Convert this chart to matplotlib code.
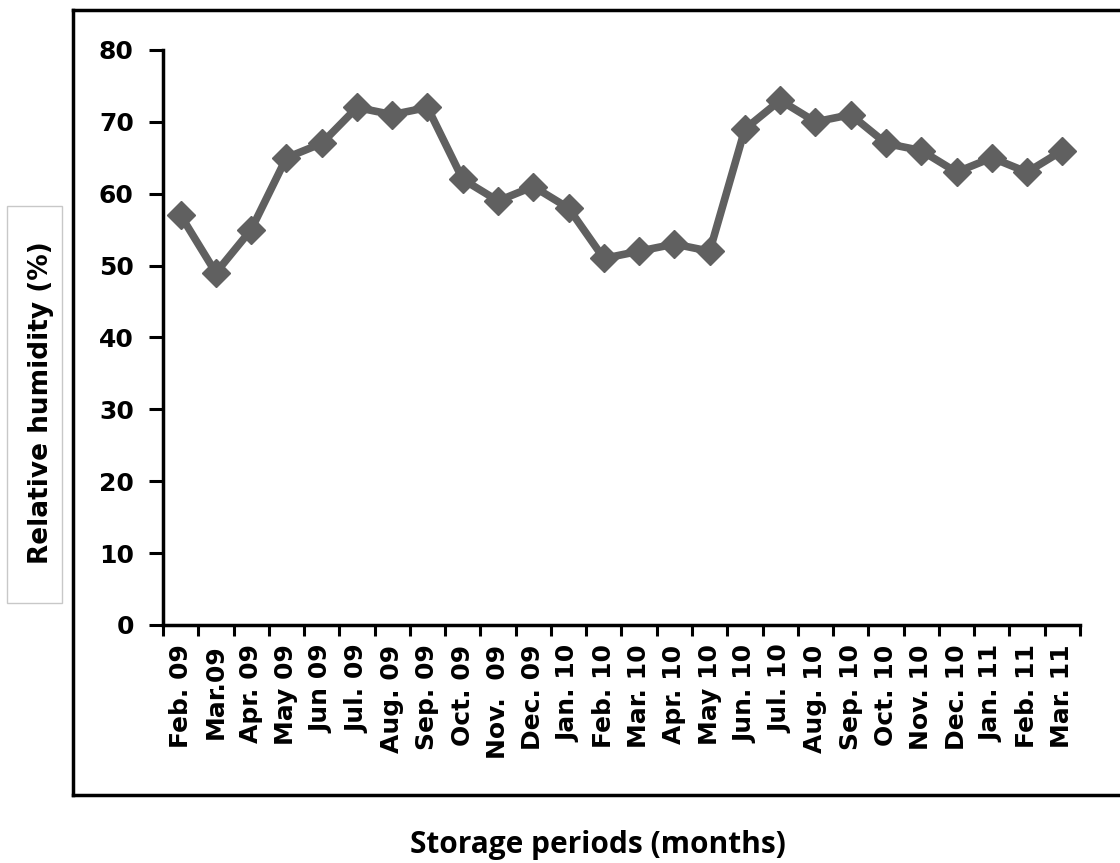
import numpy as np
import matplotlib
matplotlib.use("Agg")
import matplotlib.pyplot as plt
from matplotlib.patches import Rectangle
from matplotlib.lines import Line2D

months = ["Feb. 09", "Mar.09", "Apr. 09", "May 09", "Jun 09", "Jul. 09", "Aug. 09",
          "Sep. 09", "Oct. 09", "Nov.  09", "Dec. 09", "Jan. 10", "Feb. 10", "Mar. 10",
          "Apr. 10", "May 10", "Jun. 10", "Jul. 10", "Aug. 10", "Sep. 10", "Oct. 10",
          "Nov. 10", "Dec. 10", "Jan. 11", "Feb. 11", "Mar. 11"]
humidity = [57, 49, 55, 65, 67, 72, 71, 72, 62, 59, 61, 58, 51, 52, 53, 52,
            69, 73, 70, 71, 67, 66, 63, 65, 63, 66]
y_ticks = [0, 10, 20, 30, 40, 50, 60, 70, 80]

plt.rcParams['font.family'] = ['DejaVu Sans']


def main():
    fig = plt.figure(figsize=(11.2, 8.63), dpi=100)
    ax = fig.add_axes([0.1455, 0.2758, 0.8188, 0.6663])

    x = np.arange(len(months))
    ax.plot(x, humidity, color="#606060", linewidth=5.5, marker="D",
            markersize=14, markerfacecolor="#606060", markeredgecolor="#606060")

    ax.set_xlim(-0.5, len(months) - 0.5)
    ax.set_ylim(0, 80)

    # ticks between categories, labels centred (excel style)
    ax.set_xticks(np.arange(len(months) + 1) - 0.5)
    ax.set_xticklabels([])
    ax.set_xticks(x, minor=True)
    ax.set_xticklabels(months, minor=True, rotation=90, fontsize=18,
                       fontweight="bold", ha="center", va="top")
    ax.tick_params(axis="x", which="major", direction="out", length=8, width=2.2)
    ax.tick_params(axis="x", which="minor", length=0, pad=14)

    ax.set_yticks(y_ticks)
    ax.set_yticklabels([str(v) for v in y_ticks], fontsize=18, fontweight="bold")
    ax.tick_params(axis="y", direction="out", length=10, width=2.2, pad=11)

    for s in ["top", "right"]:
        ax.spines[s].set_visible(False)
    for s in ["left", "bottom"]:
        ax.spines[s].set_linewidth(2.5)

    # outer frame (right edge cut off in the original)
    fx0, fy0 = 73 / 1120, 1 - 795 / 863
    fy1 = 1 - 10 / 863
    for xs, ys in [([fx0, 1.0], [fy1, fy1]), ([fx0, 1.0], [fy0, fy0]), ([fx0, fx0], [fy0, fy1])]:
        fig.add_artist(Line2D(xs, ys, transform=fig.transFigure, color="black", linewidth=2.5))

    # y label box
    fig.add_artist(Rectangle((7 / 1120, 1 - 603 / 863), 55 / 1120, 397 / 863,
                             transform=fig.transFigure, facecolor="white",
                             edgecolor="#c8c8c8", linewidth=1))
    fig.text(41 / 1120, 1 - 403 / 863, "Relative humidity (%)", rotation=90,
             ha="center", va="center", fontsize=19, fontweight="bold")

    fig.text(598 / 1120, 1 - 845 / 863, "Storage periods (months)",
             ha="center", va="center", fontsize=21.5, fontweight="bold",
             family="Open Sans")

    fig.savefig("out.png", dpi=100)


if __name__ == '__main__':
    main()
